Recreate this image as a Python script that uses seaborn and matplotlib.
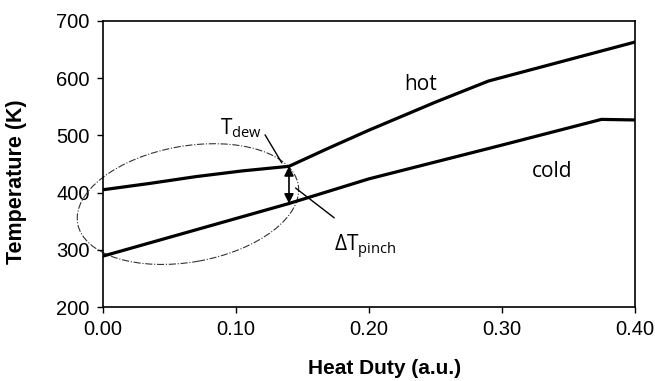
import numpy as np
import pandas as pd
import seaborn as sns
import matplotlib.pyplot as plt
from matplotlib.patches import Ellipse
from matplotlib.transforms import Affine2D

# heat duty (a.u.) and temperature (K)
hot_duty = [0.00, 0.035, 0.07, 0.105, 0.14, 0.17, 0.20, 0.25, 0.29, 0.40]
hot_temp = [405, 416, 428, 438, 446, 478, 509, 558, 595, 663]
cold_duty = [0.00, 0.07, 0.14, 0.20, 0.30, 0.375, 0.40]
cold_temp = [289, 335, 381, 424, 483, 528, 527]

pinch_duty = 0.14
t_dew = 446
t_cold_pinch = 381

x_ticks = [0.0, 0.1, 0.2, 0.3, 0.4]
y_ticks = [200, 300, 400, 500, 600, 700]

sns.set_style("ticks")
plt.rcParams['font.family'] = ['Liberation Sans', 'DejaVu Sans']
plt.rcParams['text.color'] = 'black'
plt.rcParams['axes.labelcolor'] = 'black'

hot = pd.DataFrame({"duty": hot_duty, "temp": hot_temp})
cold = pd.DataFrame({"duty": cold_duty, "temp": cold_temp})

fig, ax = plt.subplots(figsize=(6.55, 3.81), dpi=100)
fig.subplots_adjust(left=0.157, right=0.969, top=0.945, bottom=0.194)

sns.lineplot(data=hot, x="duty", y="temp", sort=False, color="black", lw=2.3, ax=ax)
sns.lineplot(data=cold, x="duty", y="temp", sort=False, color="black", lw=2.3, ax=ax)

ax.set_xlim(0, 0.4)
ax.set_ylim(200, 700)
ax.set_xticks(x_ticks)
ax.set_yticks(y_ticks)
ax.set_xticklabels([f"{v:.2f}" for v in x_ticks])
ax.tick_params(direction="out", length=4.5, width=1, labelsize=14.5, pad=5, colors="black")
for s in ax.spines.values():
    s.set_linewidth(1.2)
    s.set_color("black")

ax.set_xlabel("Heat Duty (a.u.)", fontsize=15, fontweight="bold", color="black")
ax.set_ylabel("Temperature (K)", fontsize=15.5, fontweight="bold", color="black")
ax.xaxis.set_label_coords(0.53, -0.18)
ax.yaxis.set_label_coords(-0.143, 0.44)

# dash-dot ellipse around the pinch region (drawn in pixel-scaled units so it can tilt)
sx, sy = 0.4 / 532, 500 / 286
pix = Affine2D().scale(sx, sy) + ax.transData
ax.add_patch(Ellipse((0.064 / sx, 380 / sy), 224, 116, angle=10, fill=False, ls="-.",
                     lw=0.8, ec="#333333", clip_on=False, transform=pix))

# double arrow for the pinch temperature difference
ax.annotate("", xy=(pinch_duty, t_dew), xytext=(pinch_duty, t_cold_pinch),
            arrowprops=dict(arrowstyle="<|-|>", color="black", lw=1.2,
                            mutation_scale=14, shrinkA=0, shrinkB=0))

txt = dict(fontfamily=["Open Sans", "DejaVu Sans"], fontsize=15, color="black")
ax.text(0.088, 502, r"$\mathregular{T_{dew}}$", ha="left", va="baseline", **txt)
ax.plot([0.122, 0.1346], [501, 452], color="black", lw=1)
ax.text(0.174, 298, "$\\mathregular{\u0394T_{pinch}}$", ha="left", va="baseline", **txt)
ax.plot([0.145, 0.174], [408, 356], color="black", lw=1)
ax.text(0.227, 579, "hot", ha="left", va="baseline", **txt)
ax.text(0.323, 427, "cold", ha="left", va="baseline", **txt)

fig.savefig("out.png", dpi=100)
